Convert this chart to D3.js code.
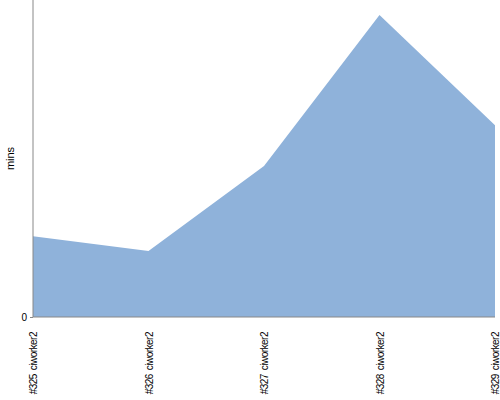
<!DOCTYPE html>
<html>
<head>
<meta charset="utf-8">
<script src="https://cdn.jsdelivr.net/npm/d3@7"></script>
<style>
  body { margin: 0; background: #fff; }
  text { font-family: "Liberation Sans", Arial, sans-serif; }
</style>
</head>
<body>
<svg id="chart" width="500" height="400"></svg>
<script>
// builds and their duration
const builds = ['#325 ciworker2', '#326 ciworker2', '#327 ciworker2', '#328 ciworker2', '#329 ciworker2'];
const mins = [2.55, 2.08, 4.76, 9.53, 6.05];
const yMax = 10;
const yTicks = [0];

const svg = d3.select('#chart');
const margin = {top: 0, right: 5, bottom: 83, left: 33};
const width = 500 - margin.left - margin.right;
const height = 400 - margin.top - margin.bottom;

const g = svg.append('g')
    .attr('transform', 'translate(' + margin.left + ',' + margin.top + ')');

const xScale = d3.scalePoint().domain(builds).range([0, width]);
const yScale = d3.scaleLinear().domain([0, yMax]).range([height, 0]);

const data = builds.map((b, i) => ({build: b, value: mins[i]}));

const area = d3.area()
    .x(d => xScale(d.build))
    .y0(height)
    .y1(d => yScale(d.value));

g.append('path')
    .datum(data)
    .attr('d', area)
    .attr('fill', '#8fb2da');

// y axis - just the zero tick
const yAxis = d3.axisLeft(yScale).tickValues(yTicks).tickSize(3).tickPadding(3);
const yG = g.append('g').call(yAxis);
yG.select('.domain').attr('stroke', '#888').attr('d', 'M0,0V' + height);
yG.selectAll('line').attr('stroke', '#888');
yG.selectAll('text').style('font-size', '10px').attr('fill', '#000');

// x axis
const xAxis = d3.axisBottom(xScale).tickSize(0).tickPadding(0);
const xG = g.append('g')
    .attr('transform', 'translate(0,' + height + ')')
    .call(xAxis);
xG.select('.domain').attr('stroke', '#888').attr('d', 'M0,0H' + width);
xG.selectAll('text')
    .style('font-size', '10px')
    .style('letter-spacing', '-0.5px')
    .style('word-spacing', '1.5px')
    .attr('fill', '#000')
    .attr('text-anchor', 'end')
    .attr('transform', 'rotate(-90)')
    .attr('x', -15)
    .attr('y', 0)
    .attr('dy', '0.35em');

// y label
svg.append('text')
    .attr('transform', 'translate(14,' + (height / 2) + ') rotate(-90)')
    .attr('text-anchor', 'middle')
    .style('font-size', '11px')
    .text('mins');
</script>
</body>
</html>
